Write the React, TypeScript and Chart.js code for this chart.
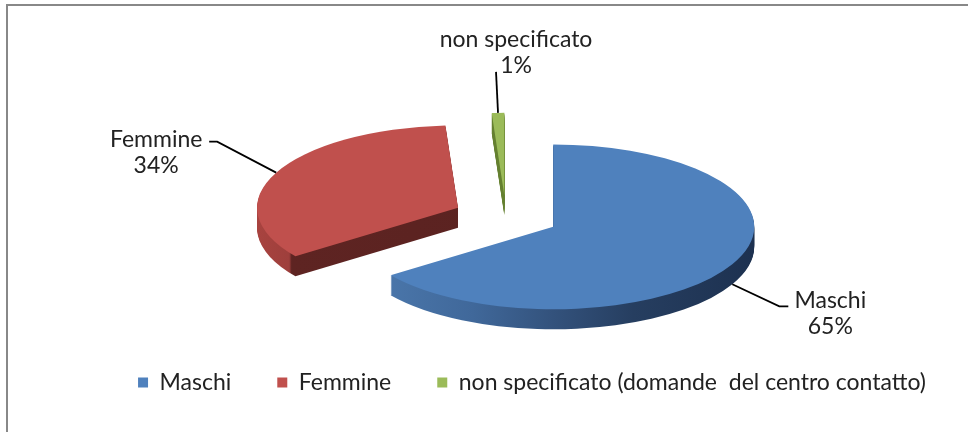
import React, { useEffect, useRef } from "react";
import { Chart, registerables } from "chart.js";

Chart.register(...registerables);

// ---- data ----
const categories = ["Maschi", "Femmine", "non specificato (domande  del centro contatto)"];
const sliceLabels = ["Maschi", "Femmine", "non specificato"];
const values = [65, 34, 1];

// ---- style ----
const topColors = ["#4F81BD", "#C0504D", "#9BBB59"];
const FONT = "Lato";
const FONT_SIZE = 23;
const RADIUS = 201;
const TILT = 0.41;
const DEPTH = 20;
const EXPLODE = 53;

// label leader geometry relative to the slice anchor (style only)
const labelStyle = [
  { elbow: [47, 22], end: [56, 22], text: [98, 16] },
  { elbow: [-59, -31], end: [-67, -31], text: [-120, -33] },
  { elbow: [-2, -41], end: [-2, -41], text: [18, -73] },
];

function sideFill(ctx: CanvasRenderingContext2D, i: number, el: any) {
  const g = ctx.createLinearGradient(el.x - RADIUS, 0, el.x + RADIUS, 0);
  if (i === 0) {
    g.addColorStop(0, "#4f7db3");
    g.addColorStop(0.08, "#4a76aa");
    g.addColorStop(0.3, "#40689a");
    g.addColorStop(0.5, "#33527c");
    g.addColorStop(0.7, "#263e60");
    g.addColorStop(1, "#1d3150");
  } else if (i === 1) {
    g.addColorStop(0, "#a8433f");
    g.addColorStop(0.08, "#9e3f3c");
    g.addColorStop(0.086, "#5e2422");
    g.addColorStop(1, "#58211f");
  } else {
    g.addColorStop(0, "#6e8c36");
    g.addColorStop(1, "#5a7329");
  }
  return g;
}

function drawArcWith(el: any, ctx: CanvasRenderingContext2D, fill: any) {
  const proxy = Object.create(el);
  proxy.options = Object.assign({}, el.options, {
    backgroundColor: fill,
    borderColor: fill,
    borderWidth: 0,
    offset: 0,
  });
  el.draw.call(proxy, ctx);
}

function explodeVec(el: any) {
  const mid = (el.startAngle + el.endAngle) / 2;
  return [Math.cos(mid) * EXPLODE, Math.sin(mid) * EXPLODE, mid];
}

const framePlugin = {
  id: "frame",
  beforeDraw(chart: any) {
    const ctx = chart.ctx;
    ctx.save();
    ctx.fillStyle = "#ffffff";
    ctx.fillRect(0, 0, chart.width, chart.height);
    ctx.fillStyle = "#888888";
    ctx.fillRect(6, 4, 2, chart.height - 4);
    ctx.fillRect(6, 4, chart.width - 6, 2);
    ctx.restore();
  },
  afterLayout(chart: any) {
    if (chart.legend) {
      chart.legend.left += 26;
      chart.legend.right += 26;
    }
  },
};

const pie3dPlugin = {
  id: "pie3d",
  beforeDatasetsDraw(chart: any) {
    const ctx: CanvasRenderingContext2D = chart.ctx;
    const arcs = chart.getDatasetMeta(0).data;
    const order = arcs.map((_: any, i: number) => i).reverse();
    for (const i of order) {
      const el = arcs[i];
      const [ex, ey] = explodeVec(el);
      const side = sideFill(ctx, i, el);
      for (let d = DEPTH; d >= 1; d--) {
        ctx.save();
        ctx.translate(0, d);
        ctx.translate(el.x, el.y);
        ctx.scale(1, TILT);
        ctx.translate(-el.x, -el.y);
        ctx.translate(ex, ey);
        drawArcWith(el, ctx, side);
        ctx.restore();
      }
      ctx.save();
      ctx.translate(el.x, el.y);
      ctx.scale(1, TILT);
      ctx.translate(-el.x, -el.y);
      ctx.translate(ex, ey);
      drawArcWith(el, ctx, el.options.backgroundColor);
      ctx.restore();
    }
    return false;
  },
  afterDraw(chart: any) {
    const ctx: CanvasRenderingContext2D = chart.ctx;
    const arcs = chart.getDatasetMeta(0).data;
    const total = values.reduce((a, b) => a + b, 0);
    arcs.forEach((el: any, i: number) => {
      const [ex, ey, mid] = explodeVec(el);
      const ax = el.x + ex + Math.cos(mid) * RADIUS;
      const ly0 = ey + Math.sin(mid) * RADIUS;
      const ay = el.y + ly0 * TILT + (Math.sin(mid) > 0 ? DEPTH : 0);
      const st = labelStyle[i];
      ctx.save();
      ctx.strokeStyle = "#000";
      ctx.lineWidth = 1.8;
      ctx.beginPath();
      ctx.moveTo(ax, ay);
      ctx.lineTo(ax + st.elbow[0], ay + st.elbow[1]);
      ctx.lineTo(ax + st.end[0], ay + st.end[1]);
      ctx.stroke();
      ctx.fillStyle = "#222";
      ctx.font = `${FONT_SIZE}px ${FONT}`;
      ctx.textAlign = "center";
      ctx.textBaseline = "middle";
      const tx = ax + st.text[0];
      const ty = ay + st.text[1];
      ctx.fillText(sliceLabels[i], tx, ty);
      ctx.fillText(Math.round((values[i] / total) * 100) + "%", tx, ty + 26);
      ctx.restore();
    });
  },
};

export default function App() {
  const ref = useRef<HTMLCanvasElement>(null);
  useEffect(() => {
    if (!ref.current) return;
    const chart = new Chart(ref.current, {
      type: "pie",
      data: {
        labels: categories,
        datasets: [
          {
            data: values,
            backgroundColor: topColors,
            borderWidth: 0,
            radius: RADIUS,
          } as any,
        ],
      },
      options: {
        responsive: false,
        animation: false,
        layout: { padding: { left: 44, right: 0, top: 109, bottom: 28 } },
        plugins: {
          legend: {
            position: "bottom",
            labels: {
              boxWidth: 10,
              boxHeight: 10,
              padding: 46,
              color: "#222",
              font: { family: FONT, size: FONT_SIZE },
            },
          },
          tooltip: { enabled: false },
        },
      } as any,
      plugins: [framePlugin, pie3dPlugin],
    });
    return () => chart.destroy();
  }, []);
  return (
    <div style={{ position: "fixed", left: 0, top: 0, width: 968, height: 432, background: "#fff" }}>
      <canvas ref={ref} width={968} height={432} style={{ display: "block", width: 968, height: 432 }} />
    </div>
  );
}
